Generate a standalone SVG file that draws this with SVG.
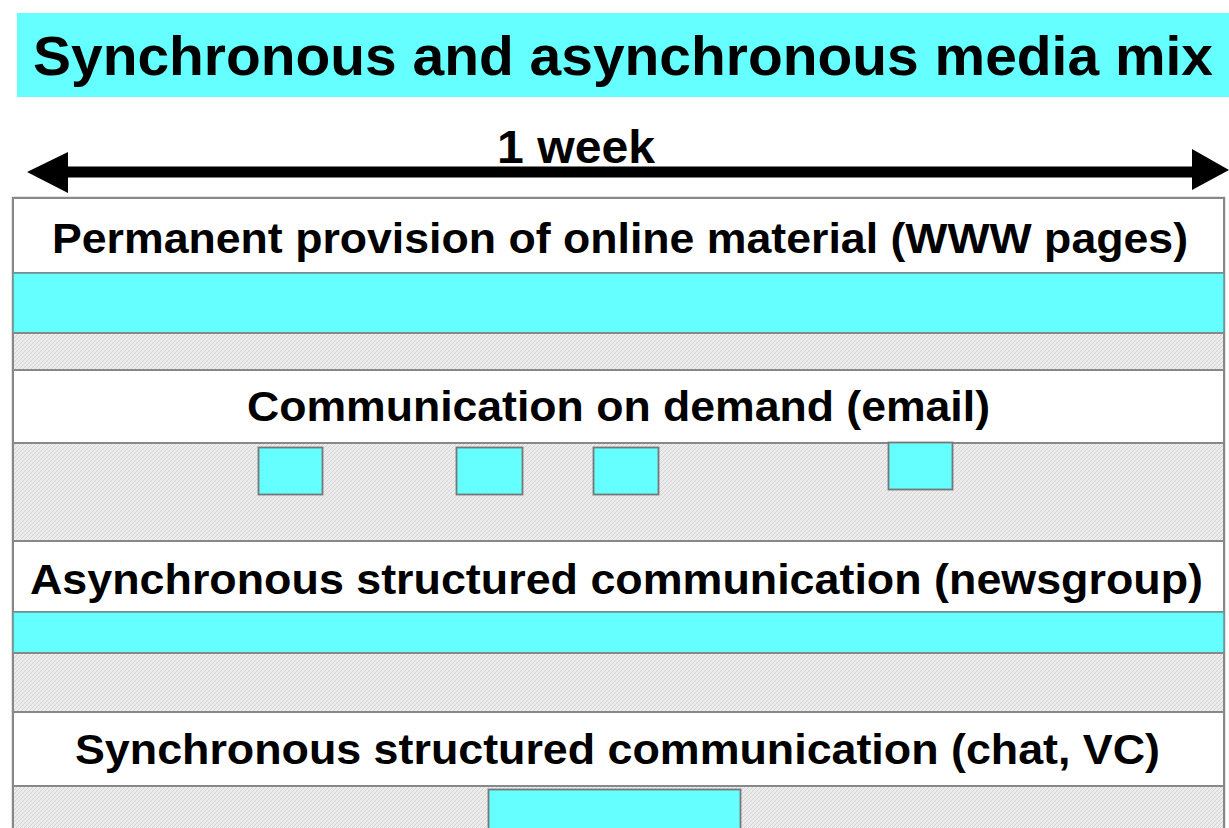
<svg xmlns="http://www.w3.org/2000/svg" width="1229" height="828" viewBox="0 0 1229 828">
<style>
.t{font-family:"Liberation Sans",Arial,sans-serif;font-weight:bold;fill:#000;text-anchor:middle}
.row{fill:#fff;stroke:#888;stroke-width:2}
.hatch{fill:url(#hp);stroke:#888;stroke-width:2}
.cy{fill:#66ffff;stroke:#6f8f8f;stroke-width:1.5}
.box{fill:#66ffff;stroke:#777;stroke-width:1.8}
</style>
<defs>
<pattern id="hp" width="4" height="4" patternUnits="userSpaceOnUse">
<rect width="4" height="4" fill="#ececec"/>
<path d="M0 4L4 0M-1 1L1 -1M3 5L5 3" stroke="#d4d4d4" stroke-width="1"/>
</pattern>
</defs>
<rect width="1229" height="828" fill="#fff"/>
<g id="title">
<rect x="17" y="13" width="1212" height="84" fill="#66ffff"/>
<text class="t" x="623" y="75" font-size="56" textLength="1180" lengthAdjust="spacingAndGlyphs">Synchronous and asynchronous media mix</text>
</g>
<g id="connectors">
<rect x="60" y="166.5" width="1140" height="11" fill="#000"/>
<polygon points="27,172 68,152 68,193" fill="#000"/>
<polygon points="1229,170 1192,149 1192,190" fill="#000"/>
</g>
<g id="week-label">
<text class="t" x="576" y="163" font-size="46" textLength="158" lengthAdjust="spacingAndGlyphs">1 week</text>
</g>
<g id="frame">
<rect x="13" y="198" width="1211" height="640" fill="#fff" stroke="#999" stroke-width="2.5"/>
</g>
<g id="row-www">
<rect class="row" x="13" y="198" width="1211" height="75"/>
<text class="t" x="620" y="253" font-size="43" textLength="1136" lengthAdjust="spacingAndGlyphs">Permanent provision of online material (WWW pages)</text>
<rect class="cy" x="13" y="273" width="1211" height="60"/>
<rect class="hatch" x="13" y="333" width="1211" height="37"/>
</g>
<g id="row-email">
<rect class="row" x="13" y="370" width="1211" height="73"/>
<text class="t" x="618.5" y="421" font-size="43" textLength="743" lengthAdjust="spacingAndGlyphs">Communication on demand (email)</text>
<rect class="hatch" x="13" y="443" width="1211" height="98"/>
<rect class="box" x="258.5" y="447.5" width="64" height="47"/>
<rect class="box" x="456.5" y="447.5" width="66" height="47"/>
<rect class="box" x="593.5" y="447.5" width="65" height="47"/>
<rect class="box" x="888.5" y="442.5" width="64" height="47"/>
</g>
<g id="row-newsgroup">
<rect class="row" x="13" y="541" width="1211" height="71"/>
<text class="t" x="616.5" y="594" font-size="43" textLength="1173" lengthAdjust="spacingAndGlyphs">Asynchronous structured communication (newsgroup)</text>
<rect class="cy" x="13" y="612" width="1211" height="41"/>
<rect class="hatch" x="13" y="653" width="1211" height="59"/>
</g>
<g id="row-chat">
<rect class="row" x="13" y="712" width="1211" height="74"/>
<text class="t" x="617.5" y="764" font-size="43" textLength="1085" lengthAdjust="spacingAndGlyphs">Synchronous structured communication (chat, VC)</text>
<rect class="hatch" x="13" y="786" width="1211" height="60"/>
<rect class="box" x="488.5" y="789.5" width="252" height="60"/>
</g>
</svg>
